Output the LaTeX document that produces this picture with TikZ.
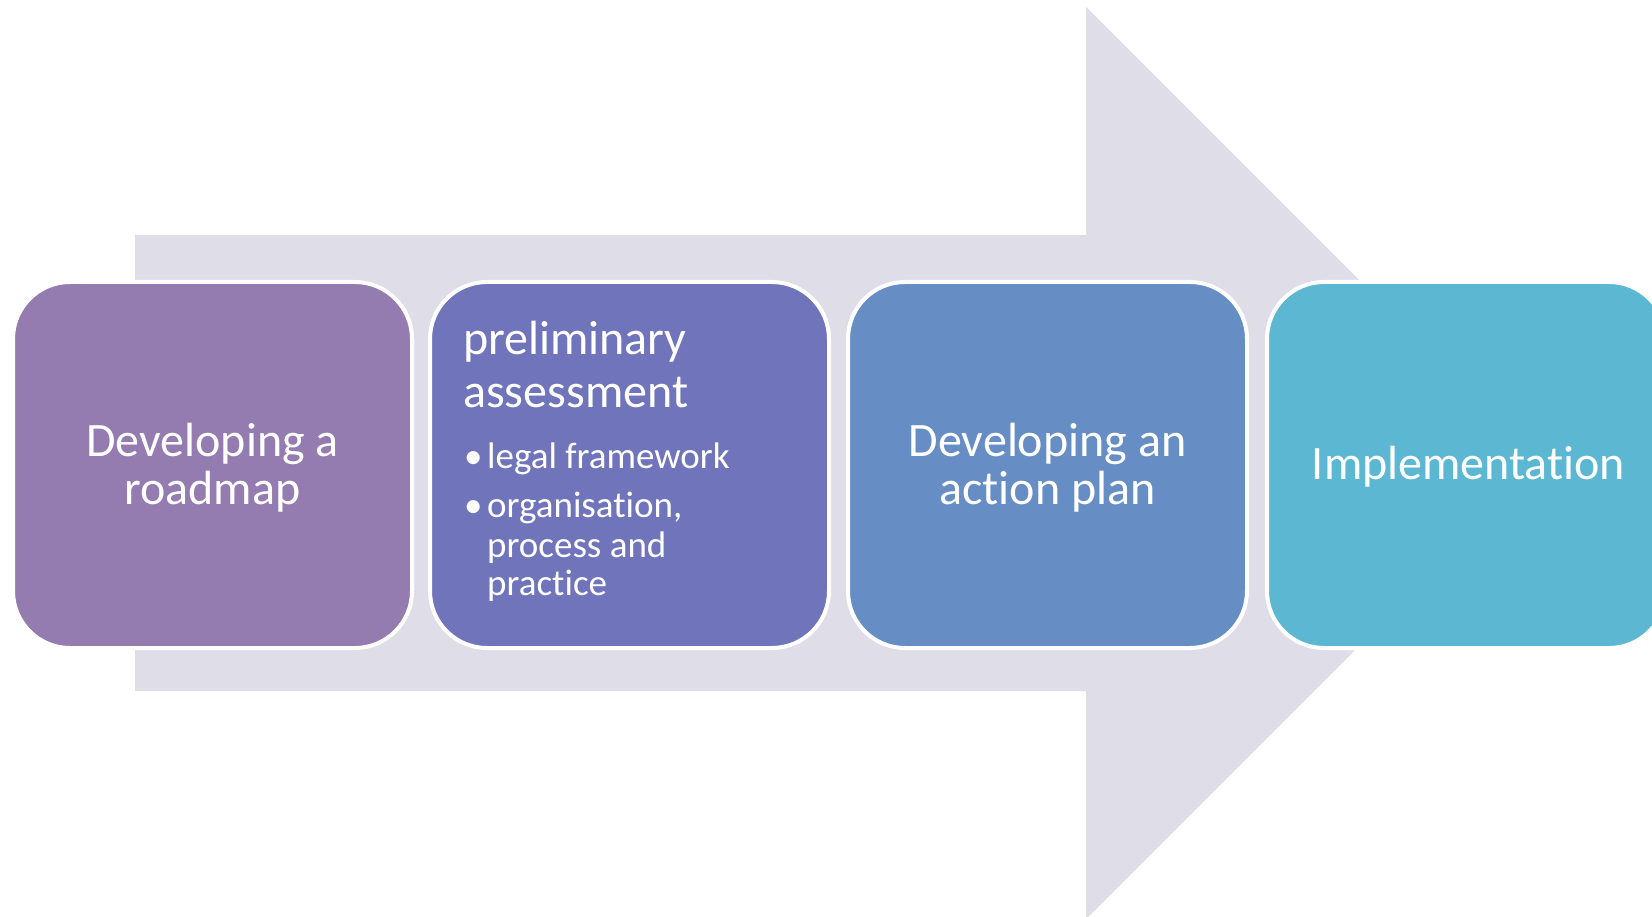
\documentclass[tikz,border=0pt]{standalone}
\usepackage{fontspec}
\setmainfont{Carlito}[Ligatures=NoCommon]
\definecolor{arrowgray}{RGB}{223,221,231}
\definecolor{cA}{RGB}{148,123,176}
\definecolor{cB}{RGB}{112,116,186}
\definecolor{cC}{RGB}{102,142,197}
\definecolor{cD}{RGB}{92,184,210}
\tikzset{
  stage/.style={rectangle, rounded corners=57pt, draw=white, line width=4pt,
    minimum width=399pt, minimum height=366pt, inner sep=0pt, anchor=north west},
  big/.style={text=white, font=\fontsize{48}{48}\selectfont, inner sep=0pt, align=center},
  head/.style={text=white, font=\fontsize{48}{48}\selectfont, inner sep=0pt, anchor=base west},
  sub/.style={text=white, font=\fontsize{37}{39}\selectfont, inner sep=0pt, anchor=base west},
}
\begin{document}
\begin{tikzpicture}[x=1pt,y=-1pt]
\useasboundingbox (0,0) rectangle (1652,917);
% big background arrow
\fill[arrowgray] (135,235) -- (1086,235) -- (1086,7) -- (1542,463) -- (1086,919) -- (1086,691) -- (135,691) -- cycle;
% stages
\node[stage, fill=cA] (b1) at (11,280) {};
\node[stage, fill=cB] (b2) at (428,280) {};
\node[stage, fill=cC] (b3) at (846,280) {};
\node[stage, fill=cD] (b4) at (1265,280) {};
% texts
\node[big] (t1) at ([yshift=-3pt]b1.center) {Developing a\\roadmap};
\node[big] (t3) at ([yshift=-3pt]b3.center) {Developing an\\action plan};
\node[big] (t4) at ([xshift=2pt,yshift=-2pt]b4.center) {Implementation};
\node[head] (h1) at (463,355) {preliminary};
\node[head] (h2) at (463,407) {assessment};
\node[sub] (d1) at (464,468) {•};
\node[sub] (s1) at (487,468) {legal framework};
\node[sub] (d2) at (464,517) {•};
\node[sub] (s2) at (487,517) {organisation,};
\node[sub] (s3) at (487,557) {process and};
\node[sub] (s4) at (487,595) {practice};
\end{tikzpicture}
\end{document}
